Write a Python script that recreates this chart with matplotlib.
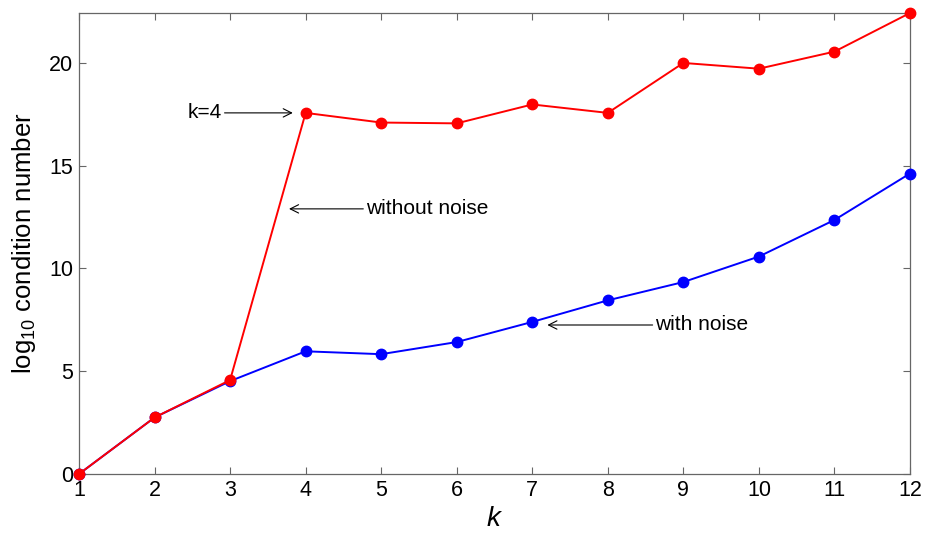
import matplotlib
matplotlib.use("Agg")
import matplotlib.pyplot as plt

k = [1, 2, 3, 4, 5, 6, 7, 8, 9, 10, 11, 12]
without_noise = [0.0, 2.75, 4.57, 17.57, 17.10, 17.06, 17.98, 17.57, 20.0, 19.72, 20.55, 22.43]
with_noise = [0.0, 2.75, 4.52, 5.97, 5.83, 6.42, 7.40, 8.45, 9.34, 10.58, 12.36, 14.62]
xticks = [1, 2, 3, 4, 5, 6, 7, 8, 9, 10, 11, 12]
yticks = [0, 5, 10, 15, 20]

plt.rcParams['font.family'] = ['Liberation Sans', 'DejaVu Sans']
plt.rcParams['mathtext.fontset'] = 'custom'
plt.rcParams['mathtext.rm'] = 'Liberation Sans'
plt.rcParams['mathtext.it'] = 'Liberation Sans:italic'

fig = plt.figure(figsize=(9.36, 5.37), dpi=100)
ax = fig.add_axes([0.0844, 0.1173, 0.8878, 0.8585])

ax.plot(k, with_noise, color='#0000ff', marker='o', markersize=7.5, linewidth=1.4, clip_on=False, zorder=3)
ax.plot(k, without_noise, color='#ff0000', marker='o', markersize=7.5, linewidth=1.4, clip_on=False, zorder=4)

ax.set_xlim(1, 12)
ax.set_ylim(0, 22.43)
ax.set_xticks(xticks)
ax.set_yticks(yticks)
ax.tick_params(direction='in', top=True, right=True, length=5, width=0.8,
               color='#666666', labelsize=15.5, labelcolor='black', pad=4)
for s in ax.spines.values():
    s.set_color('#666666')
    s.set_linewidth(0.9)

ax.set_xlabel('$k$', fontsize=20, labelpad=4)
ax.set_ylabel('log$_{10}$ condition number', fontsize=18.5, labelpad=8)

arrow = dict(arrowstyle='->', color='black', lw=0.8, shrinkA=0, shrinkB=0)
ax.annotate('k=4', xy=(3.83, 17.57), xytext=(2.89, 17.57), fontsize=15,
            ha='right', va='center', arrowprops=arrow)
ax.annotate('without noise', xy=(3.78, 12.9), xytext=(4.80, 12.9), fontsize=15,
            ha='left', va='center', arrowprops=arrow)
ax.annotate('with noise', xy=(7.20, 7.25), xytext=(8.63, 7.25), fontsize=15,
            ha='left', va='center', arrowprops=arrow)

fig.savefig('out.png', dpi=100)
